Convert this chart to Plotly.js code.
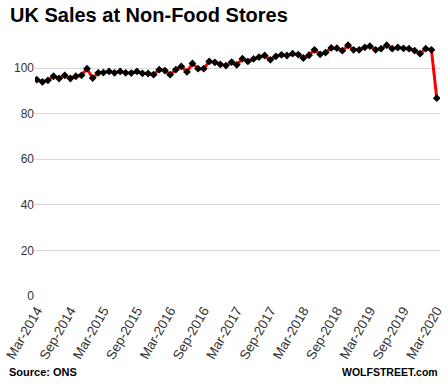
<!DOCTYPE html>
<html>
<head>
<meta charset="utf-8">
<script src="https://cdn.plot.ly/plotly-3.0.1.min.js"></script>
<style>html,body{margin:0;padding:0;background:#fff;}#chart{width:448px;height:388px;}</style>
</head>
<body>
<div id="chart"></div>
<script>
var months = [
  "2014-03","2014-04","2014-05","2014-06","2014-07","2014-08","2014-09","2014-10","2014-11","2014-12","2015-01","2015-02",
  "2015-03","2015-04","2015-05","2015-06","2015-07","2015-08","2015-09","2015-10","2015-11","2015-12","2016-01","2016-02",
  "2016-03","2016-04","2016-05","2016-06","2016-07","2016-08","2016-09","2016-10","2016-11","2016-12","2017-01","2017-02",
  "2017-03","2017-04","2017-05","2017-06","2017-07","2017-08","2017-09","2017-10","2017-11","2017-12","2018-01","2018-02",
  "2018-03","2018-04","2018-05","2018-06","2018-07","2018-08","2018-09","2018-10","2018-11","2018-12","2019-01","2019-02",
  "2019-03","2019-04","2019-05","2019-06","2019-07","2019-08","2019-09","2019-10","2019-11","2019-12","2020-01","2020-02",
  "2020-03"
];
var salesIndex = [
  94.9, 93.9, 94.6, 96.4, 95.4, 96.8, 95.4, 96.4, 96.8, 99.7, 95.6, 97.9,
  98.0, 98.5, 97.9, 98.5, 97.9, 97.8, 98.5, 97.7, 97.6, 97.1, 99.3, 98.9,
  97.1, 99.3, 100.7, 98.3, 102.0, 99.7, 99.7, 102.9, 102.5, 101.6, 101.1, 102.6,
  101.4, 104.1, 102.9, 104.0, 104.8, 105.5, 103.6, 105.1, 105.8, 105.5, 106.3, 105.9,
  104.4, 105.6, 108.0, 106.0, 106.8, 108.8, 108.7, 107.6, 110.0, 108.0, 108.0, 109.1,
  109.6, 108.0, 108.5, 110.0, 108.5, 109.0, 108.6, 108.5, 107.6, 106.3, 108.5, 108.0,
  86.8
];
var tickDates = ["2014-03","2014-09","2015-03","2015-09","2016-03","2016-09","2017-03","2017-09","2018-03","2018-09","2019-03","2019-09","2020-03"];
var tickLabels = ["Mar-2014","Sep-2014","Mar-2015","Sep-2015","Mar-2016","Sep-2016","Mar-2017","Sep-2017","Mar-2018","Sep-2018","Mar-2019","Sep-2019","Mar-2020"];
var yTicks = [0, 20, 40, 60, 80, 100];

var trace = {
  x: months, y: salesIndex, type: 'scatter', mode: 'lines+markers',
  line: {color: '#ff0000', width: 3},
  marker: {symbol: 'diamond', size: 6, color: '#000000'},
  hoverinfo: 'skip'
};
var layout = {
  width: 448, height: 388,
  margin: {l: 35, r: 8, t: 27, b: 92},
  paper_bgcolor: '#ffffff', plot_bgcolor: '#ffffff',
  showlegend: false,
  font: {family: 'Liberation Sans, Arial, sans-serif', color: '#333333'},
  title: {text: '<b>UK Sales at Non-Food Stores</b>', font: {size: 20, color: '#000000', family: 'Liberation Sans, Arial, sans-serif'},
    x: 10/448, xref: 'container', xanchor: 'left', y: 1 - 15/388, yref: 'container', yanchor: 'middle'},
  xaxis: {
    type: 'date', range: ['2014-02-19', '2020-03-19'],
    tickmode: 'array', tickvals: tickDates, ticktext: tickLabels,
    tickangle: -60, tickfont: {size: 13.5, color: '#333333'}, ticklabelstandoff: 3,
    showgrid: false, zeroline: false, showline: false, ticks: '', fixedrange: true
  },
  yaxis: {
    range: [0, 118], tickmode: 'array', tickvals: yTicks, ticktext: yTicks.map(String),
    tickfont: {size: 12, color: '#333333'}, showgrid: true, gridcolor: '#d9d9d9', gridwidth: 1,
    zeroline: false, showline: false, ticks: '', ticklen: 0, fixedrange: true
  },
  annotations: [
    {text: '<b>Source: ONS</b>', xref: 'paper', yref: 'paper', x: 8/448 - 35/405, xanchor: 'left', y: 0, yshift: -76, yanchor: 'middle', showarrow: false, font: {size: 11, color: '#000000'}},
    {text: '<b>WOLFSTREET.com</b>', xref: 'paper', yref: 'paper', x: 1, xshift: 0, xanchor: 'right', y: 0, yshift: -76, yanchor: 'middle', showarrow: false, font: {size: 10.5, color: '#000000'}}
  ]
};
Plotly.newPlot('chart', [trace], layout, {displayModeBar: false, staticPlot: true});
</script>
</body>
</html>
